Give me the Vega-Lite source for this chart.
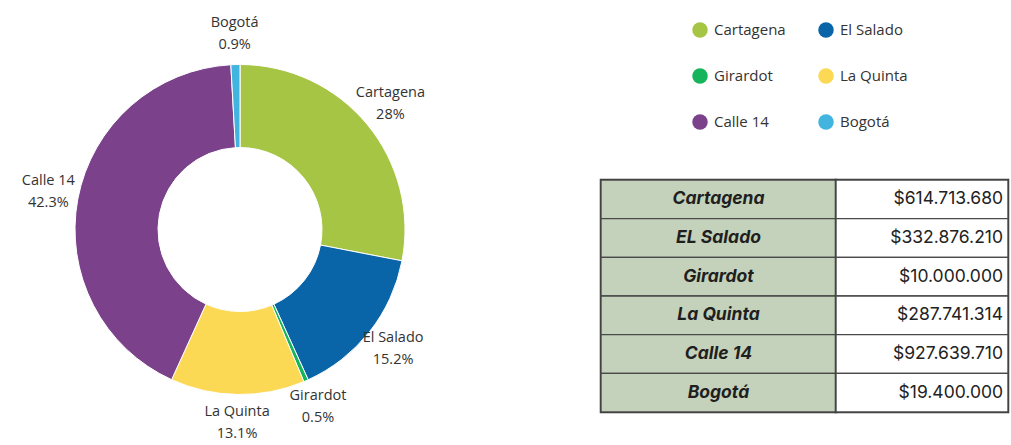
{
  "$schema": "https://vega.github.io/schema/vega-lite/v6.json",
  "background": "white",
  "padding": 0,
  "bounds": "flush",
  "spacing": 121,
  "datasets": {
    "d": [
      {"name": "Cartagena", "tname": "Cartagena", "value": 614713680, "ord": 1, "label": "Cartagena\n28%", "amount": "$614.713.680"},
      {"name": "El Salado", "tname": "EL Salado", "value": 332876210, "ord": 2, "label": "El Salado\n15.2%", "amount": "$332.876.210"},
      {"name": "Girardot", "tname": "Girardot", "value": 10000000, "ord": 3, "label": "Girardot\n0.5%", "amount": "$10.000.000"},
      {"name": "La Quinta", "tname": "La Quinta", "value": 287741314, "ord": 4, "label": "La Quinta\n13.1%", "amount": "$287.741.314"},
      {"name": "Calle 14", "tname": "Calle 14", "value": 927639710, "ord": 5, "label": "Calle 14\n42.3%", "amount": "$927.639.710"},
      {"name": "Bogotá", "tname": "Bogotá", "value": 19400000, "ord": 6, "label": "Bogotá\n0.9%", "amount": "$19.400.000"}
    ]
  },
  "config": {
    "view": {"stroke": null},
    "font": "Open Sans",
    "legend": {
      "orient": "none",
      "legendX": 692,
      "legendY": 22,
      "columns": 2,
      "direction": "horizontal",
      "padding": 0,
      "symbolType": "circle",
      "symbolSize": 240,
      "symbolStrokeWidth": 0,
      "labelFontSize": 15,
      "labelFont": "Open Sans",
      "labelFontWeight": 500,
      "labelColor": "#333333",
      "labelOffset": 6,
      "rowPadding": 30,
      "columnPadding": 32,
      "title": null
    }
  },
  "hconcat": [
    {
      "width": 480,
      "height": 445,
      "data": {"name": "d"},
      "encoding": {
        "theta": {"field": "value", "type": "quantitative", "stack": true},
        "order": {"field": "ord", "type": "quantitative"},
        "color": {
          "field": "name",
          "type": "nominal",
          "sort": null,
          "scale": {
            "domain": ["Cartagena", "El Salado", "Girardot", "La Quinta", "Calle 14", "Bogotá"],
            "range": ["#a6c545", "#0a64a8", "#16b55c", "#fcd955", "#7b418b", "#41b4df"]
          },
          "legend": {"title": null}
        }
      },
      "layer": [
        {"mark": {"type": "arc", "outerRadius": 165, "innerRadius": 82, "stroke": "white", "strokeWidth": 1, "yOffset": 7}},
        {
          "mark": {"type": "text", "radius": 195, "yOffset": 7, "dy": -12, "lineBreak": "\n", "fontSize": 14.5, "fontWeight": 500, "lineHeight": 22, "align": "center", "baseline": "middle"},
          "encoding": {"text": {"field": "label", "type": "nominal"}, "color": {"value": "#333333"}}
        }
      ]
    },
    {
      "spacing": 15,
      "bounds": "flush",
      "vconcat": [
        {"width": 407, "height": 165, "data": {"values": []}, "mark": "point", "encoding": {}},
        {
          "spacing": 0,
          "bounds": "flush",
          "hconcat": [
            {
              "width": 235,
              "height": 232,
              "data": {"name": "d"},
              "view": {"stroke": "#333333", "strokeWidth": 2.5},
              "encoding": {
                "y": {"field": "tname", "type": "nominal", "sort": {"field": "ord", "op": "min"}, "axis": null, "scale": {"paddingInner": 0, "paddingOuter": 0}}
              },
              "layer": [
                {"mark": {"type": "bar", "fill": "#c5d2bb", "stroke": "#4a4a4a", "strokeWidth": 1.4}},
                {
                  "mark": {"type": "text", "font": "Inter", "fontStyle": "italic", "fontWeight": "bold", "fontSize": 17.5, "fill": "#1f1f1f"},
                  "encoding": {"text": {"field": "tname", "type": "nominal"}}
                }
              ]
            },
            {
              "width": 172,
              "height": 232,
              "data": {"name": "d"},
              "view": {"stroke": "#333333", "strokeWidth": 2.5},
              "encoding": {
                "y": {"field": "tname", "type": "nominal", "sort": {"field": "ord", "op": "min"}, "axis": null, "scale": {"paddingInner": 0, "paddingOuter": 0}}
              },
              "layer": [
                {"mark": {"type": "bar", "fill": "white", "stroke": "#4a4a4a", "strokeWidth": 1.4}},
                {
                  "mark": {"type": "text", "font": "Inter", "fontSize": 17.5, "fill": "#222222", "align": "right", "dx": -5},
                  "encoding": {"text": {"field": "amount", "type": "nominal"}, "x": {"value": "width"}}
                }
              ]
            }
          ]
        }
      ]
    }
  ]
}
